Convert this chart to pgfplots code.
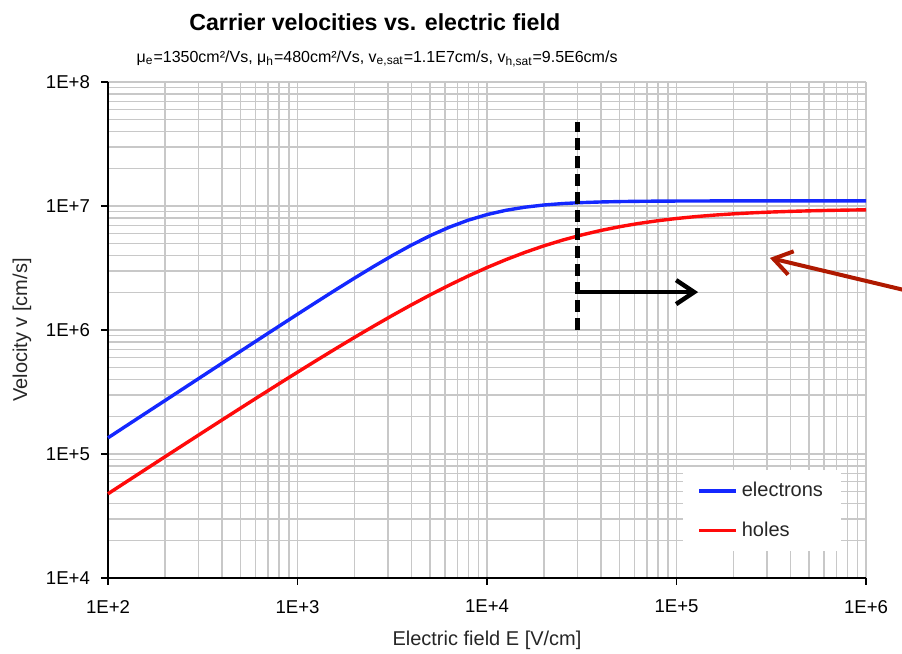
\documentclass[border=0pt]{standalone}
\usepackage{fontspec}
\setmainfont{Liberation Sans}
\usepackage{pgfplots}
\pgfplotsset{compat=1.18}
\usetikzlibrary{arrows.meta}
\definecolor{gridgray}{RGB}{200,200,200}
\definecolor{darkred}{RGB}{175,25,0}
\definecolor{eblue}{RGB}{20,40,255}
\definecolor{hred}{RGB}{255,10,10}
\pgfplotstableread{
E v
100 1.350e5
125.89 1.700e5
158.49 2.140e5
199.53 2.692e5
251.19 3.389e5
316.23 4.266e5
398.11 5.368e5
501.19 6.753e5
630.96 8.493e5
794.33 1.0672e6
1000 1.340e6
1258.9 1.6798e6
1584.9 2.1004e6
1995.3 2.6160e6
2511.9 3.2407e6
3162.3 3.9796e6
3981.1 4.8289e6
5011.9 5.7632e6
6309.6 6.7351e6
7943.3 7.6784e6
10000 8.5276e6
12589 9.2345e6
15849 9.7828e6
19953 1.01837e7
25119 1.04633e7
31623 1.06521e7
39811 1.07766e7
50119 1.08575e7
63096 1.09094e7
79433 1.09426e7
100000 1.09636e7
158490 1.0985e7
251190 1.0994e7
398110 1.0998e7
630960 1.0999e7
1000000 1.1e7
}\electrons
\pgfplotstableread{
E v
100 47759
125.89 60046
158.49 75472
199.53 94818
251.19 119060
316.23 149402
398.11 187322
501.19 234627
630.96 293503
794.33 366566
1000 456914
1258.9 568146
1584.9 704345
1995.3 870019
2511.9 1.06992e6
3162.3 1.30877e6
3981.1 1.59089e6
5011.9 1.91960e6
6309.6 2.29648e6
7943.3 2.72083e6
10000 3.18881e6
12589 3.69347e6
15849 4.22453e6
19953 4.76978e6
25119 5.31342e6
31623 5.84302e6
39811 6.34542e6
50119 6.81052e6
63096 7.23161e6
79433 7.60510e6
100000 7.93043e6
125893 8.20935e6
158489 8.44539e6
199526 8.64271e6
251189 8.80617e6
316228 8.94043e6
398107 9.05007e6
501187 9.13912e6
630957 9.21107e6
794328 9.26905e6
1000000 9.31563e6
}\holes
\begin{document}
\begin{tikzpicture}
\path[use as bounding box] (-54pt,-38pt) rectangle (397pt,289pt);
\begin{loglogaxis}[
  at={(0,0)}, anchor=south west,
  scale only axis, width=379pt, height=248pt,
  xmin=1e2, xmax=1e6, ymin=1e4, ymax=1e8,
  axis x line*=bottom, axis y line*=left,
  axis line style={line width=0.8pt, black},
  xtick={1e2,1e3,1e4,1e5,1e6},
  xticklabels={1E+2,1E+3,1E+4,1E+5,1E+6},
  ytick={1e4,1e5,1e6,1e7,1e8},
  yticklabels={1E+4,1E+5,1E+6,1E+7,1E+8},
  grid=both,
  major grid style={gridgray, line width=0.7pt},
  minor grid style={gridgray, line width=0.7pt},
  tick align=outside, major tick length=3.5pt, minor tick length=0pt,
  tick style={black, line width=0.8pt},
  ticklabel style={font=\fontsize{9.3}{11}\selectfont},
  xticklabel style={yshift=-4pt},
  yticklabel style={xshift=-2pt},
  xlabel={Electric field E [V/cm]},
  ylabel={Velocity v [cm/s]},
  label style={font=\fontsize{10}{12}\selectfont, text=black!85},
  xlabel style={at={(axis description cs:0.5,-0.125)}, anchor=center},
  ylabel style={at={(axis description cs:-0.1135,0.5)}, anchor=center},
  clip=false,
  legend style={at={(axis description cs:0.7586,0.2177)}, anchor=north west,
    draw=none, fill=white, font=\fontsize{10}{12}\selectfont, text=black!85,
    row sep=7pt, inner xsep=7pt, inner ysep=4pt},
  legend cell align=left,
  legend image code/.code={\draw[#1] (0pt,0pt) -- (18.5pt,0pt);},
]
\addplot[eblue, line width=1.7pt] table[x=E,y=v] {\electrons};
\addlegendentry{electrons}
\addplot[hred, line width=1.7pt] table[x=E,y=v] {\holes};
\addlegendentry{holes}
\addplot[black, line width=2.2pt, dash pattern=on 6pt off 3pt, forget plot] coordinates {(3e4,1e6) (3e4,4.75e7)};
\addplot[black, line width=2.2pt, -{Straight Barb[length=9pt,width=12pt,line width=2.2pt]}, forget plot] coordinates {(3e4,2.02e6) (1.3e5,2.02e6)};
\addplot[darkred, line width=2pt, -{Straight Barb[length=9pt,width=12pt,line width=2pt]}, forget plot] coordinates {(1.7e6,2.05e6) (3.11e5,3.81e6)};
\node[font=\fontsize{11.6}{14}\selectfont\bfseries] at (axis description cs:0.352,1.121) {Carrier velocities vs. electric field};
\node[font=\fontsize{8}{9}\selectfont] at (axis description cs:0.355,1.046) {μ\textsubscript{e}=1350cm²/Vs, μ\textsubscript{h}=480cm²/Vs, v\textsubscript{e,sat}=1.1E7cm/s, v\textsubscript{h,sat}=9.5E6cm/s};
\end{loglogaxis}
\end{tikzpicture}
\end{document}
